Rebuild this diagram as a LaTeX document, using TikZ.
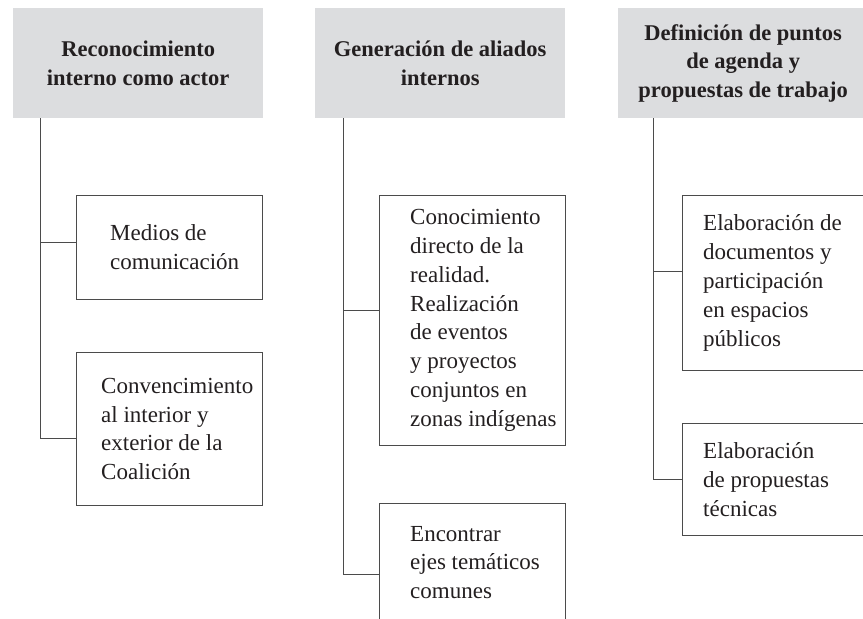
\documentclass[tikz,border=0pt]{standalone}
\usepackage{fontspec}
\setmainfont{Liberation Serif}
\usepackage{tikz}
\usetikzlibrary{positioning}

\definecolor{headgray}{RGB}{220,221,223}
\definecolor{inkgray}{RGB}{35,31,32}
\definecolor{linegray}{RGB}{75,75,75}

\tikzset{
  head/.style={fill=headgray, anchor=north west, inner sep=0pt, minimum width=250pt,
    minimum height=110pt, align=center, text=inkgray,
    font=\bfseries\fontsize{22.5}{28.5}\selectfont},
  box/.style={draw=linegray, line width=0.9pt, anchor=north west, inner sep=0pt},
  txt/.style={inner sep=0pt, align=left, text=inkgray, font=\fontsize{23}{28.8}\selectfont},
  link/.style={draw=linegray, line width=0.9pt}
}

\begin{document}
\begin{tikzpicture}[x=1pt, y=-1pt]
  \useasboundingbox (0,0) rectangle (863,619);
  \clip (0,0) rectangle (863,619);

  % headers
  \node[head] (h1) at (13,8)  {Reconocimiento\\interno como actor};
  \node[head] (h2) at (315,8) {Generación de aliados\\internos};
  \node[head] (h3) at (618,8) {Definición de puntos\\de agenda y\\propuestas de trabajo};

  % boxes
  \node[box, minimum width=186pt, minimum height=104pt] (m1a) at (76,195)  {};
  \node[box, minimum width=186pt, minimum height=153pt] (m1b) at (76,352)  {};
  \node[box, minimum width=186pt, minimum height=250pt] (m2a) at (379,195) {};
  \node[box, minimum width=186pt, minimum height=118pt] (m2b) at (379,503) {};
  \node[box, minimum width=200pt, minimum height=175pt] (m3a) at (682,195) {};
  \node[box, minimum width=200pt, minimum height=112pt] (m3b) at (682,423) {};

  \node[txt, right=34pt of m1a.west] (t1a) {Medios de\\comunicación};
  \node[txt, right=25pt of m1b.west] (t1b) {Convencimiento\\al interior y\\exterior de la\\Coalición};
  \node[txt, right=31pt of m2a.west] (t2a) {Conocimiento\\directo de la\\realidad.\\Realización\\de eventos\\y proyectos\\conjuntos en\\zonas indígenas};
  \node[txt, right=31pt of m2b.west] (t2b) {Encontrar\\ejes temáticos\\comunes};
  \node[txt, right=21pt of m3a.west] (t3a) {Elaboración de\\documentos y\\participación\\en espacios\\públicos};
  \node[txt, right=21pt of m3b.west] (t3b) {Elaboración\\de propuestas\\técnicas};

  % connectors
  \coordinate (s1) at ([xshift=27pt]h1.south west);
  \coordinate (s2) at ([xshift=28pt]h2.south west);
  \coordinate (s3) at ([xshift=35pt]h3.south west);
  \draw[link] (s1) |- ([yshift=5pt]m1a.west);
  \draw[link] (s1) |- ([yshift=-9.5pt]m1b.west);
  \draw[link] (s2) |- ([yshift=10pt]m2a.west);
  \draw[link] (s2) |- ([yshift=-12pt]m2b.west);
  \draw[link] (s3) |- ([yshift=11.5pt]m3a.west);
  \draw[link] (s3) |- (m3b.west);
\end{tikzpicture}
\end{document}
